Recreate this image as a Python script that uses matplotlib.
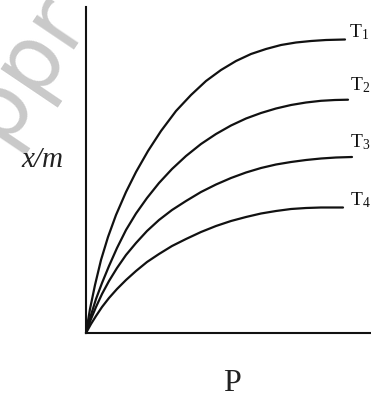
import matplotlib
matplotlib.use("Agg")
import matplotlib.pyplot as plt

plt.rcParams['mathtext.fontset'] = 'custom'
plt.rcParams['mathtext.rm'] = 'Liberation Serif'
plt.rcParams['mathtext.it'] = 'Liberation Serif:italic'

# Data (arbitrary units)
t1_p = [0, 0.4, 0.9, 1.5, 2.2, 3.0, 4.0, 5.0, 6.2, 7.5, 9.0, 10.5, 12.0, 13.5,
        15.0, 16.5, 18.0, 19.5, 21.0, 22.5, 24.0, 25.9]
t1_y = [0, 2.4, 4.8, 7.3, 9.6, 11.8, 14.1, 16.1, 18.2, 20.2, 22.2, 23.8, 25.2,
        26.3, 27.2, 27.9, 28.4, 28.8, 29.05, 29.2, 29.3, 29.35]
t2_p = [0, 0.5, 1.0, 1.6, 2.3, 3.1, 4.0, 5.0, 6.1, 7.3, 8.6, 10.0, 11.5, 13.0,
        14.5, 16.0, 17.5, 19.0, 20.5, 22.0, 23.5, 24.9, 26.2]
t2_y = [0, 1.8, 3.4, 5.0, 6.7, 8.5, 10.3, 11.95, 13.5, 15.0, 16.4, 17.7, 18.9,
        19.9, 20.75, 21.45, 22.0, 22.45, 22.8, 23.05, 23.22, 23.3, 23.33]
t3_p = [0, 0.5, 1.0, 1.6, 2.3, 3.1, 4.0, 5.0, 6.1, 7.3, 8.6, 10.0, 11.5, 13.0,
        14.5, 16.0, 17.5, 19.0, 20.5, 22.0, 23.5, 25.0, 26.6]
t3_y = [0, 1.4, 2.6, 3.9, 5.2, 6.5, 7.8, 9.0, 10.2, 11.3, 12.3, 13.2, 14.1,
        14.85, 15.5, 16.05, 16.5, 16.85, 17.1, 17.3, 17.45, 17.55, 17.6]
t4_p = [0, 0.5, 1.0, 1.6, 2.3, 3.1, 4.0, 5.0, 6.1, 7.3, 8.6, 10.0, 11.5, 13.0,
        14.5, 16.0, 17.5, 19.0, 20.5, 22.0, 23.5, 25.7]
t4_y = [0, 0.9, 1.7, 2.6, 3.5, 4.4, 5.3, 6.2, 7.1, 7.9, 8.7, 9.4, 10.1, 10.7,
        11.2, 11.6, 11.95, 12.2, 12.4, 12.5, 12.55, 12.55]
series = [(t1_p, t1_y), (t2_p, t2_y), (t3_p, t3_y), (t4_p, t4_y)]
labels = [r'$\mathrm{T}_{1}$', r'$\mathrm{T}_{2}$', r'$\mathrm{T}_{3}$', r'$\mathrm{T}_{4}$']
label_p = [26.3, 26.4, 26.4, 26.4]
label_y = [29.6, 24.3, 18.6, 12.8]

W, H = 371, 398
fig = plt.figure(figsize=(W / 100, H / 100), dpi=100)

# watermark
fig.text(90 / W, 1 - 23 / H, 'toppr', rotation=56, rotation_mode='anchor',
         ha='right', va='baseline', fontsize=65, color='#c9c9c9',
         family='DejaVu Sans', zorder=0)

ax = fig.add_axes([86 / W, 65 / H, (W - 86) / W, 326 / H])
ax.patch.set_alpha(0)
ax.set_xlim(0, 28.5)
ax.set_ylim(0, 32.6)
for s in ['top', 'right']:
    ax.spines[s].set_visible(False)
for s in ['left', 'bottom']:
    ax.spines[s].set_linewidth(1.5)
    ax.spines[s].set_color('#111111')
ax.set_xticks([])
ax.set_yticks([])

for (p, y), lab, lp, ly in zip(series, labels, label_p, label_y):
    ax.plot(p, y, color='#111111', lw=1.6, solid_capstyle='round',
            solid_joinstyle='round', clip_on=False)
    ax.text(lp, ly, lab, fontsize=14, ha='left', va='baseline',
            color='#111111', clip_on=False)

fig.text(42 / W, 1 - 167 / H, 'x/m', fontsize=21, family='Liberation Serif',
         style='italic', ha='center', va='baseline', color='#222222')
fig.text(232 / W, 1 - 391 / H, 'P', fontsize=23, family='Liberation Serif',
         ha='center', va='baseline', color='#222222')

fig.savefig('out.png', dpi=100)
